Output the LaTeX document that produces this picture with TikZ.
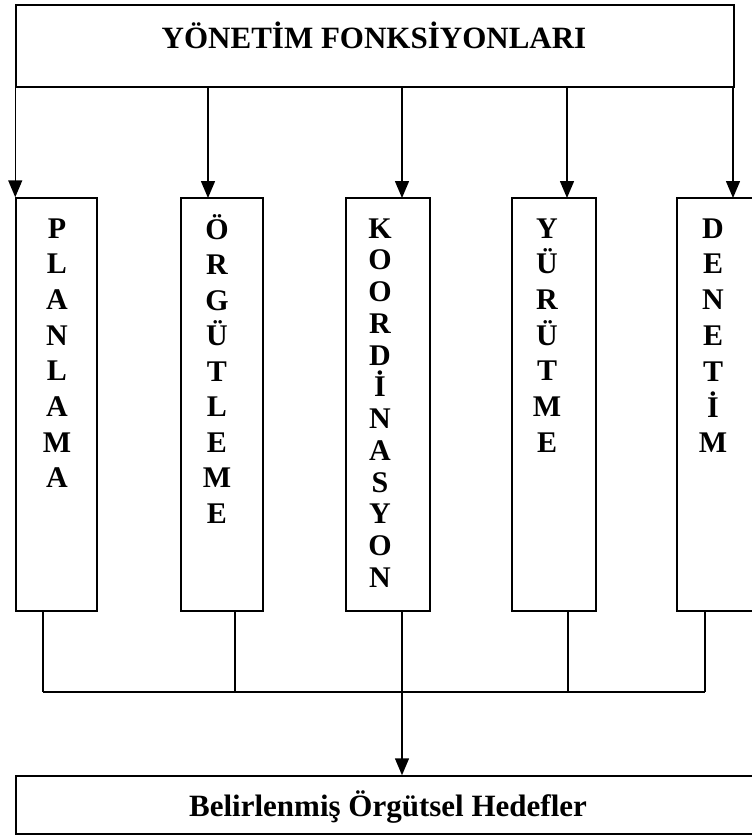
\documentclass[tikz,border=0pt]{standalone}
\usepackage{fontspec}
\setmainfont{Liberation Serif}
\usetikzlibrary{arrows.meta,calc}
\begin{document}
\begin{tikzpicture}[x=1pt,y=-1pt,
  box/.style={draw=black, line width=1.5pt, inner sep=0pt},
  conn/.style={line width=1.5pt},
  arr/.style={line width=1.5pt,-{Triangle[length=17pt,width=14pt]}},
  letter/.style={font=\fontsize{30}{30}\selectfont\bfseries, inner sep=0pt, anchor=base},
  title/.style={font=\fontsize{31}{32}\selectfont\bfseries, inner sep=0pt, anchor=base}]
\useasboundingbox (0,0) rectangle (752,836);
% boxes
\node[box, minimum width=718pt, minimum height=82pt] (top) at (375,46) {};
\node[title] (toptext) at (374,48) {YÖNETİM FONKSİYONLARI};
\node[box, minimum width=81pt, minimum height=413pt] (c1) at (56.5,404.5) {};
\node[box, minimum width=82pt, minimum height=413pt] (c2) at (222,404.5) {};
\node[box, minimum width=84pt, minimum height=413pt] (c3) at (388,404.5) {};
\node[box, minimum width=84pt, minimum height=413pt] (c4) at (554,404.5) {};
\node[box, minimum width=88pt, minimum height=413pt] (c5) at (721,404.5) {};
\node[box, minimum width=749pt, minimum height=58pt] (bot) at (390.5,805) {};
\node[title] (bottext) at (388,816) {Belirlenmiş Örgütsel Hedefler};
% letters
\foreach \l [count=\i from 0] in {P,L,A,N,L,A,M,A}
  \node[letter] (pl\i) at (57,{238+\i*35.7}) {\l};
\foreach \l [count=\i from 0] in {Ö,R,G,Ü,T,L,E,M,E}
  \node[letter] (or\i) at (217,{239+\i*35.5}) {\l};
\foreach \l [count=\i from 0] in {K,O,O,R,D,İ,N,A,S,Y,O,N}
  \node[letter] (ko\i) at (380,{238+\i*31.75}) {\l};
\foreach \l [count=\i from 0] in {Y,Ü,R,Ü,T,M,E}
  \node[letter] (yu\i) at (547,{238+\i*35.7}) {\l};
\foreach \l [count=\i from 0] in {D,E,N,E,T,İ,M}
  \node[letter] (de\i) at (713,{238+\i*35.8}) {\l};
% top arrows
\coordinate (t2) at (208,198);
\coordinate (t3) at (402,198);
\coordinate (t4) at (567,198);
\coordinate (t5) at (733,198);
\draw[arr] (top.south west) -- (c1.north west);
\draw[arr] (top.south -| t2) -- (t2);
\draw[arr] (top.south -| t3) -- (t3);
\draw[arr] (top.south -| t4) -- (t4);
\draw[arr] (top.south -| t5) -- (t5);
% bottom connectors
\coordinate (b1) at (43,692);
\coordinate (b2) at (235,692);
\coordinate (b3) at (402,692);
\coordinate (b4) at (568,692);
\coordinate (b5) at (705,692);
\draw[conn] (c1.south -| b1) -- (b1);
\draw[conn] (c2.south -| b2) -- (b2);
\draw[conn] (c3.south -| b3) -- (b3);
\draw[conn] (c4.south -| b4) -- (b4);
\draw[conn] (c5.south -| b5) -- (b5);
\draw[conn] (b1) -- (b5);
\draw[arr] (b3) -- (bot.north -| b3);
\end{tikzpicture}
\end{document}
